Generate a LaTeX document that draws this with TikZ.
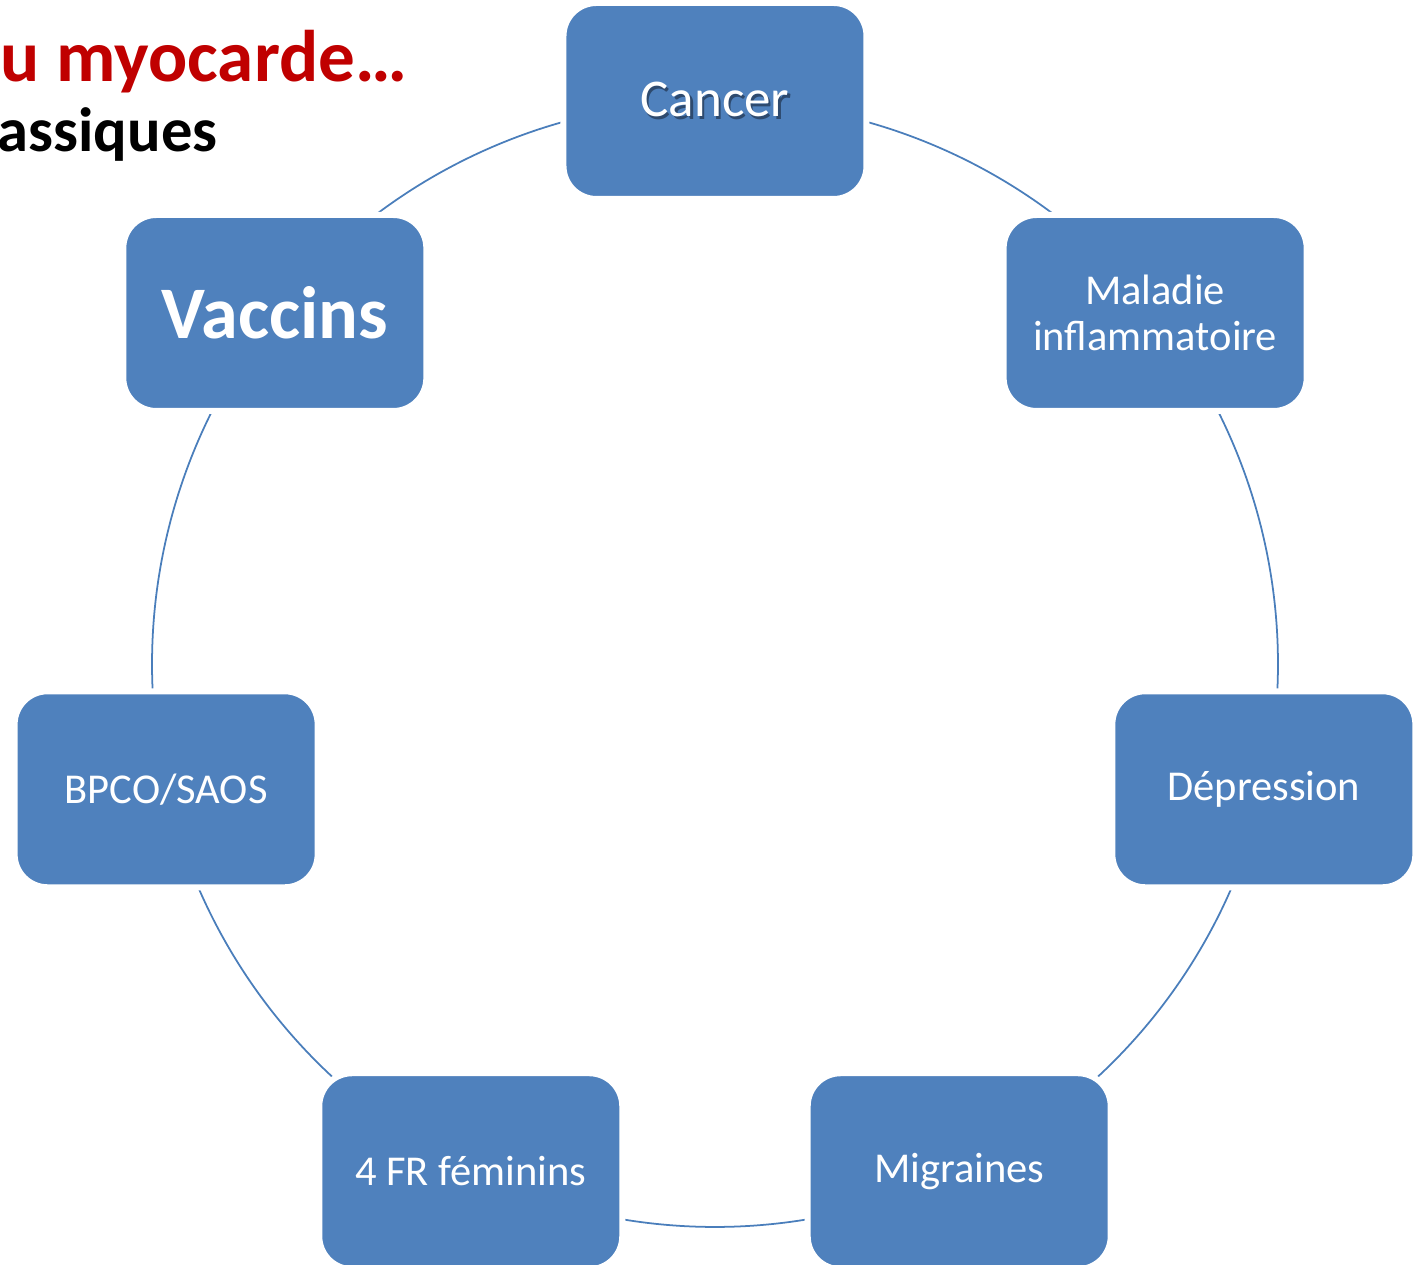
\documentclass[tikz,border=0pt]{standalone}
\usepackage{fontspec}
\setmainfont{Carlito}
\usetikzlibrary{backgrounds}
\definecolor{boxblue}{HTML}{4F81BD}
\definecolor{ringblue}{HTML}{4A7EBB}
\definecolor{titlered}{HTML}{C00000}
\definecolor{shadowblue}{HTML}{2E4A6E}
\tikzset{
  facteur/.style={rectangle, rounded corners=0.33cm, fill=boxblue, draw=white,
    line width=0.06cm, minimum width=3.03cm, minimum height=1.96cm,
    text=white, align=center, inner sep=0pt, font=\fontsize{12.1}{13.1}\selectfont},
  anneau/.style={ringblue, line width=0.5pt},
  titre/.style={anchor=base west, inner sep=0pt}
}
\begin{document}
\begin{tikzpicture}
\useasboundingbox (-7.15,-6.01) rectangle (7.10,6.64);
% titre coupe a gauche
\node[titre, text=titlered, font=\fontsize{20.8}{25}\bfseries\selectfont] (titre) at (-7.15,5.82) {u myocarde…};
\node[titre, font=\fontsize{17.8}{21}\bfseries\selectfont] (soustitre) at (-7.18,5.12) {assiques};
% les facteurs sur le cercle
\node[facteur, font=\fontsize{15.1}{18}\selectfont] (cancer) at (90:5.63)
  {\rlap{\hspace{0.7pt}\raisebox{-0.7pt}{\textcolor{shadowblue}{Cancer}}}Cancer};
\node[facteur] (maladie) at (38.57:5.63) {Maladie\\inflammatoire};
\node[facteur] (depression) at (-12.86:5.63) {Dépression};
\node[facteur] (migraines) at (-64.29:5.63) {Migraines};
\node[facteur] (femmes) at (-115.71:5.63) {4 FR féminins};
\node[facteur] (bpco) at (-167.14:5.63) {BPCO/SAOS};
\node[facteur, font=\fontsize{21.1}{25}\bfseries\selectfont] (vaccins) at (141.43:5.63) {Vaccins};
% anneau entre les boites
\begin{scope}[on background layer]
\foreach \n [count=\i from 0] in {cancer,maladie,depression,migraines,femmes,bpco,vaccins}
  \draw[anneau] (\n.center) arc[start angle={90-\i*360/7}, delta angle=-360/7, radius=5.63];
\end{scope}
\end{tikzpicture}
\end{document}
